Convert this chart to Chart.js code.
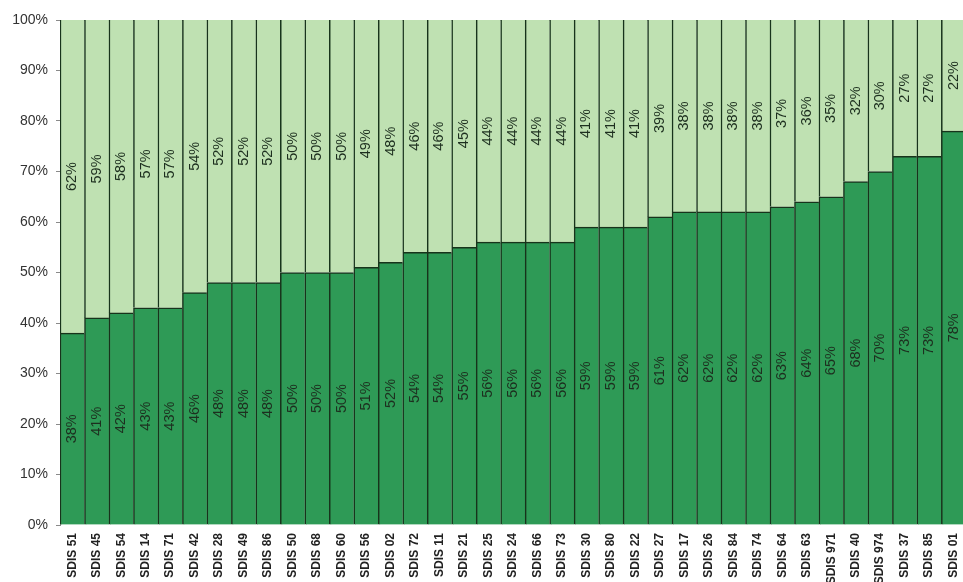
<!DOCTYPE html>
<html>
<head>
<meta charset="utf-8">
<script src="https://cdn.jsdelivr.net/npm/chart.js@4.4.1/dist/chart.umd.min.js"></script>
<style>
  html, body { margin: 0; padding: 0; background: #fff; overflow: hidden; }
  #wrap { width: 976px; height: 582px; position: relative; }
</style>
</head>
<body>
<div id="wrap"><canvas id="stackChart"></canvas></div>
<script>
const sdisLabels = ["SDIS 51", "SDIS 45", "SDIS 54", "SDIS 14", "SDIS 71", "SDIS 42", "SDIS 28", "SDIS 49", "SDIS 86",
  "SDIS 50", "SDIS 68", "SDIS 60", "SDIS 56", "SDIS 02", "SDIS 72", "SDIS 11", "SDIS 21", "SDIS 25", "SDIS 24",
  "SDIS 66", "SDIS 73", "SDIS 30", "SDIS 80", "SDIS 22", "SDIS 27", "SDIS 17", "SDIS 26", "SDIS 84", "SDIS 74",
  "SDIS 64", "SDIS 63", "SDIS 971", "SDIS 40", "SDIS 974", "SDIS 37", "SDIS 85", "SDIS 01"]

const lowerShare = [38, 41, 42, 43, 43, 46, 48, 48, 48, 50, 50, 50, 51, 52, 54, 54, 55, 56, 56,
  56, 56, 59, 59, 59, 61, 62, 62, 62, 62, 63, 64, 65, 68, 70, 73, 73, 78]

const upperShare = [62, 59, 58, 57, 57, 54, 52, 52, 52, 50, 50, 50, 49, 48, 46, 46, 45, 44, 44,
  44, 44, 41, 41, 41, 39, 38, 38, 38, 38, 37, 36, 35, 32, 30, 27, 27, 22]

const yTicks = [0, 10, 20, 30, 40, 50, 60, 70, 80, 90, 100]

// writes the % value in the middle of every segment, turned like the axis labels
const segmentLabels = {
  id: 'segmentLabels',
  afterDatasetsDraw(chart) {
    const ctx = chart.ctx
    ctx.save()
    ctx.font = '14.5px "Liberation Sans", Arial, sans-serif'
    ctx.fillStyle = '#1d2f1f'
    ctx.textAlign = 'center'
    ctx.textBaseline = 'middle'
    chart.data.datasets.forEach((ds, i) => {
      chart.getDatasetMeta(i).data.forEach((bar, j) => {
        const p = bar.getProps(['x', 'y', 'base'], true)
        ctx.save()
        ctx.translate(p.x, (p.y + p.base) / 2)
        ctx.rotate(-Math.PI / 2)
        ctx.fillText(ds.data[j] + '%', 0, 0)
        ctx.restore()
      })
    })
    ctx.restore()
  }
}

new Chart(document.getElementById('stackChart'), {
  type: 'bar',
  data: {
    labels: sdisLabels,
    datasets: [{
      label: 'lower',
      data: lowerShare,
      backgroundColor: '#2e9a56',
      borderColor: '#17331b',
      borderWidth: { left: 1.5, right: 0, top: 1.5, bottom: 0 },
      categoryPercentage: 1,
      barPercentage: 1
    }, {
      label: 'upper',
      data: upperShare,
      backgroundColor: '#bfe1b2',
      borderColor: '#17331b',
      borderWidth: { left: 1.5, right: 0, top: 0, bottom: 0 },
      categoryPercentage: 1,
      barPercentage: 1
    }]
  },
  options: {
    responsive: true,
    maintainAspectRatio: false,
    animation: false,
    layout: { padding: { top: 20, right: 0, left: 0, bottom: 0 } },
    plugins: {
      legend: { display: false },
      tooltip: { enabled: false }
    },
    scales: {
      x: {
        stacked: true,
        grid: { display: false, drawTicks: false },
        border: { display: false },
        afterFit: (axis) => { axis.height = 57 },
        ticks: {
          autoSkip: false,
          minRotation: 90,
          maxRotation: 90,
          padding: 8,
          color: '#222',
          font: { family: '"Liberation Sans", Arial, sans-serif', size: 12, weight: 'bold' }
        }
      },
      y: {
        stacked: true,
        min: 0,
        max: 100,
        z: 1,
        afterFit: (axis) => { axis.width = 60 },
        afterBuildTicks: (axis) => { axis.ticks = yTicks.map(v => ({ value: v })) },
        border: { display: true, color: '#8a8a8a', width: 1 },
        grid: {
          drawOnChartArea: true,
          tickLength: 4,
          tickColor: '#8a8a8a',
          color: (c) => c.tick && c.tick.value === 100 ? '#a0a0a0' : 'rgba(0,0,0,0)'
        },
        ticks: {
          padding: 8,
          color: '#333',
          font: { family: '"Liberation Sans", Arial, sans-serif', size: 14 },
          callback: (v) => v + '%'
        }
      }
    }
  },
  plugins: [segmentLabels]
})
</script>
</body>
</html>
